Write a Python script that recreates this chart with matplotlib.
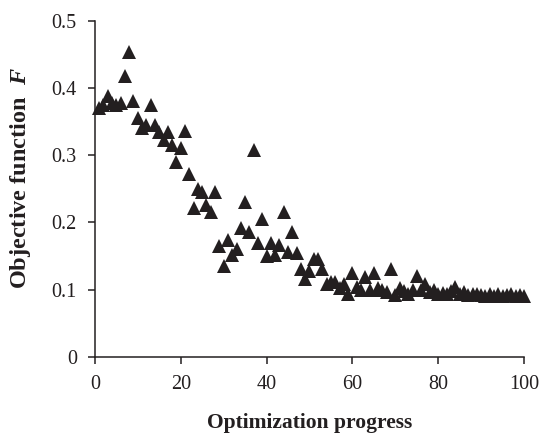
import matplotlib
matplotlib.use("Agg")
import matplotlib.pyplot as plt

progress = list(range(1, 101))
objective = [
    0.370, 0.375, 0.388, 0.378, 0.375, 0.378, 0.418, 0.453, 0.380, 0.355,
    0.340, 0.345, 0.375, 0.345, 0.335, 0.322, 0.335, 0.315, 0.290, 0.310,
    0.336, 0.272, 0.222, 0.250, 0.245, 0.226, 0.216, 0.245, 0.165, 0.135,
    0.174, 0.152, 0.160, 0.192, 0.230, 0.186, 0.307, 0.170, 0.205, 0.150,
    0.169, 0.152, 0.166, 0.215, 0.156, 0.185, 0.155, 0.130, 0.115, 0.127,
    0.145, 0.146, 0.130, 0.109, 0.112, 0.111, 0.102, 0.109, 0.094, 0.124,
    0.104, 0.100, 0.119, 0.099, 0.124, 0.102, 0.100, 0.096, 0.131, 0.092,
    0.102, 0.098, 0.093, 0.100, 0.120, 0.100, 0.109, 0.096, 0.100, 0.094,
    0.095, 0.093, 0.098, 0.104, 0.094, 0.096, 0.092, 0.094, 0.093, 0.092,
    0.090, 0.093, 0.091, 0.094, 0.090, 0.092, 0.093, 0.090, 0.092, 0.090,
]

xticks = [0, 20, 40, 60, 80, 100]
yticks = [0, 0.1, 0.2, 0.3, 0.4, 0.5]
ytick_labels = ["0", "0.1", "0.2", "0.3", "0.4", "0.5"]

plt.rcParams['font.family'] = ['Liberation Serif', 'DejaVu Serif']
plt.rcParams['mathtext.fontset'] = 'custom'
plt.rcParams['mathtext.it'] = 'Liberation Serif:italic:bold'
plt.rcParams['mathtext.rm'] = 'Liberation Serif:bold'

fig = plt.figure(figsize=(5.42, 4.34), dpi=100)
ax = fig.add_axes([0.175, 0.178, 0.792, 0.774])

ax.plot(progress, objective, linestyle='none', marker='^', markersize=9.5,
        color='#231f20', markeredgewidth=0, clip_on=False)

ax.set_xlim(0, 100)
ax.set_ylim(0, 0.5)
ax.set_xticks(xticks)
ax.set_yticks(yticks)
ax.set_yticklabels(ytick_labels)
for s in ['top', 'right']:
    ax.spines[s].set_visible(False)
for s in ['left', 'bottom']:
    ax.spines[s].set_linewidth(1.1)
    ax.spines[s].set_color('#231f20')
ax.tick_params(direction='out', length=5, width=1.1, labelsize=14.5,
               color='#231f20', labelcolor='#231f20', pad=8)

ax.set_xlabel('Optimization progress', fontsize=15.5, fontweight='bold', labelpad=14,
              color='#231f20')
ax.set_ylabel(r'Objective function  $F$', fontsize=17.5, fontweight='bold',
              color='#231f20')
ax.yaxis.set_label_coords(-0.145, 0.532)

fig.savefig('out.png', dpi=100)
